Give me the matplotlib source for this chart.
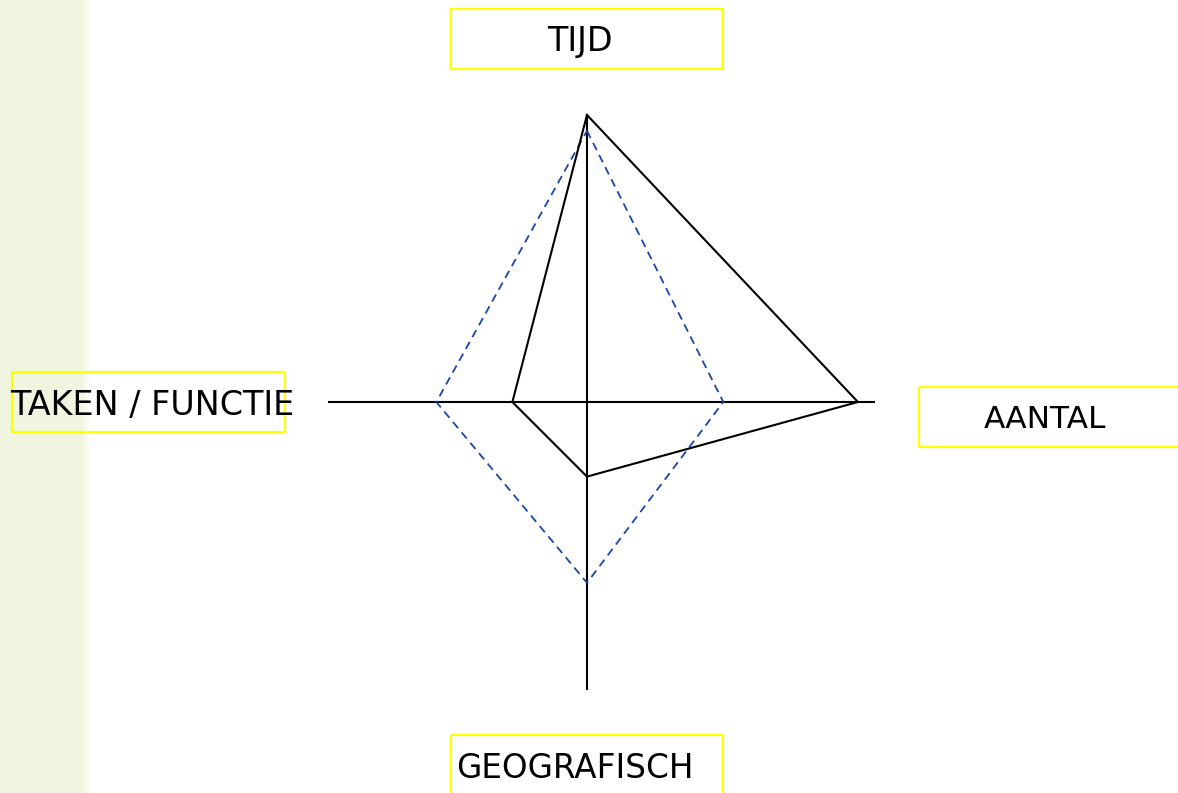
import numpy as np
import matplotlib
matplotlib.use('Agg')
import matplotlib.pyplot as plt
from matplotlib.patches import Rectangle

# axes of the diagram: up, right, down, left
labels = ['TIJD', 'AANTAL', 'GEOGRAFISCH', 'TAKEN / FUNCTIE']
axis_len = [10, 10, 10, 9]
solid_vals = [10, 9.44, 2.6, 2.6]
dashed_vals = [9.45, 4.75, 6.3, 5.25]

directions = np.array([[0, 1], [1, 0], [0, -1], [-1, 0]])

W, H = 1178, 793
unit = 28.7          # px per value unit
cx, cy = 587, 402    # centre in px (from top)

fig = plt.figure(figsize=(W / 100, H / 100), dpi=100)

# background layer in pixel coordinates
bg = fig.add_axes([0, 0, 1, 1])
bg.set_xlim(0, W)
bg.set_ylim(H, 0)
bg.axis('off')
grad = np.ones((1, 100, 3))
strip = np.array([0.945, 0.961, 0.875])
for i in range(100):
    t = np.clip((i - 82) / 8, 0, 1)
    grad[0, i] = strip * (1 - t) + np.ones(3) * t
bg.imshow(grad, extent=(0, 100, H, 0), aspect='auto', interpolation='bilinear', zorder=0)

# label boxes (x0, y0, w, h) and text anchors
boxes = [(451, 9, 272, 60), (919, 387, 280, 60), (451, 735, 272, 70), (12, 372, 273, 60)]
text_pos = [(580, 41, 'center'), (1045, 419, 'center'), (456, 768, 'left'), (10, 405, 'left')]
sizes = [24, 22.5, 23.5, 24]
for (x0, y0, w, h), (tx, ty, ha), lab, fs in zip(boxes, text_pos, labels, sizes):
    bg.add_patch(Rectangle((x0, y0), w, h, fill=False, edgecolor='#ffff00', lw=1.6, zorder=2))
    bg.text(tx, ty, lab, ha=ha, va='center', fontsize=fs, color='black', zorder=3)

# radar layer in value units
ax = fig.add_axes([0, 0, 1, 1])
ax.set_xlim(-cx / unit, (W - cx) / unit)
ax.set_ylim(-(H - cy) / unit, cy / unit)
ax.patch.set_alpha(0)
ax.axis('off')

for d, L in zip(directions, axis_len):
    ax.plot([0, d[0] * L], [0, d[1] * L], color='black', lw=1.5)

def polygon(vals):
    pts = directions * np.array(vals)[:, None]
    pts = np.vstack([pts, pts[:1]])
    return pts[:, 0], pts[:, 1]

x, y = polygon(dashed_vals)
ax.plot(x, y, color='#1a45a8', lw=1.3, dashes=(4.5, 3))
x, y = polygon(solid_vals)
ax.plot(x, y, color='black', lw=1.5)

fig.savefig('out.png', dpi=100)
